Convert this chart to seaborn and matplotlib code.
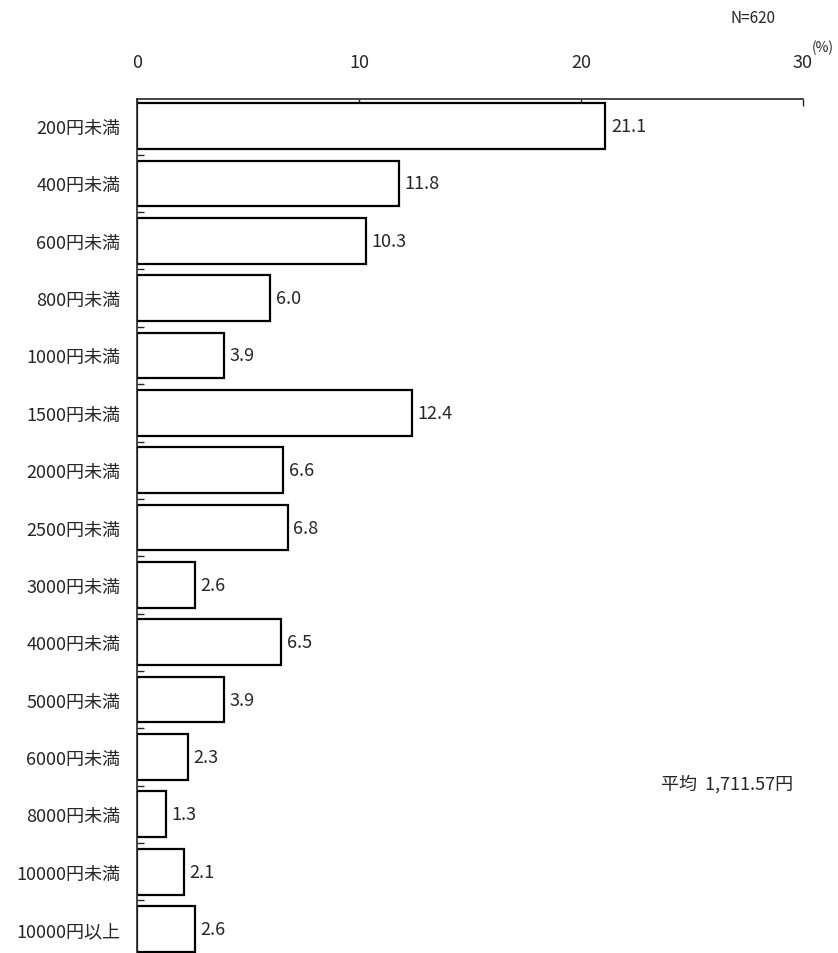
import matplotlib
matplotlib.use("Agg")
import matplotlib.pyplot as plt
import seaborn as sns
import pandas as pd
from matplotlib.ticker import FixedLocator

categories = ["200円未満", "400円未満", "600円未満", "800円未満", "1000円未満",
              "1500円未満", "2000円未満", "2500円未満", "3000円未満", "4000円未満",
              "5000円未満", "6000円未満", "8000円未満", "10000円未満", "10000円以上"]
values = [21.1, 11.8, 10.3, 6.0, 3.9, 12.4, 6.6, 6.8, 2.6, 6.5, 3.9, 2.3, 1.3, 2.1, 2.6]
x_ticks = [0, 10, 20, 30]

sns.set_style("white")
plt.rcParams["font.family"] = ["Noto Sans CJK JP", "DejaVu Sans"]

df = pd.DataFrame({"category": categories, "value": values})

fig = plt.figure(figsize=(8.38, 9.54), dpi=100)
ax = fig.add_axes([0.1635, 0.0, 0.7945, 0.895])

sns.barplot(data=df, x="value", y="category", orient="h", ax=ax,
            color="white", edgecolor="black", linewidth=1.6, width=0.8)

ax.set_xlim(0, 30)
ax.set_ylim(14.42, -0.47)
ax.set_xlabel("")
ax.set_ylabel("")

# value axis along the top
ax.xaxis.tick_top()
ax.set_xticks(x_ticks)
ax.set_xticklabels([str(t) for t in x_ticks], fontsize=13)
ax.tick_params(axis="x", direction="in", length=5, width=1, pad=20, top=True, bottom=False)

# category labels and small separator ticks on the left
ax.tick_params(axis="y", length=0, pad=12, labelsize=13)
ax.yaxis.set_minor_locator(FixedLocator([i + 0.5 for i in range(len(categories) - 1)]))
ax.tick_params(axis="y", which="minor", direction="in", length=5, width=1, left=True)

for side in ["right", "bottom"]:
    ax.spines[side].set_visible(False)
ax.spines["top"].set_linewidth(1.2)
ax.spines["left"].set_linewidth(1.2)

for i, v in enumerate(values):
    ax.text(v + 0.25, i, f"{v:.1f}", va="center", ha="left", fontsize=13)

fig.text(0.982, 0.950, "(%)", ha="center", va="center", fontsize=10)
fig.text(0.925, 0.981, "N=620", ha="right", va="center", fontsize=11)
fig.text(0.946, 0.178, "平均  1,711.57円", ha="right", va="center", fontsize=13)

fig.savefig("out.png", dpi=100)
